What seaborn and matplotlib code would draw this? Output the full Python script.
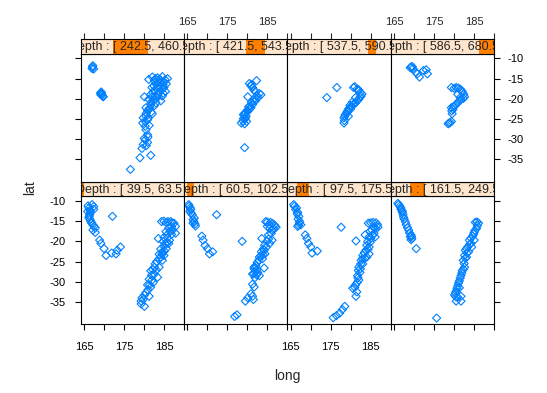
import matplotlib
matplotlib.use("Agg")
import matplotlib.pyplot as plt
import seaborn as sns
import pandas as pd
from matplotlib.patches import Rectangle

# ---- data ----
depth_lo = [39.5, 60.5, 97.5, 161.5, 242.5, 421.5, 537.5, 586.5]
depth_hi = [63.5, 102.5, 175.5, 249.5, 460.5, 543.5, 590.5, 680.5]

panel1 = [(167.0,-10.9),(166.2,-11.7),(165.9,-12.6),(166.4,-13.4),(166.2,-14.2),(166.7,-15.1),(167.2,-15.9),
          (167.8,-16.7),(167.2,-17.2),(167.8,-17.8),(167.4,-12.1),(166.6,-12.8),(172.1,-13.8),(168.9,-19.7),
          (170.0,-21.8),(170.5,-23.5),(171.9,-22.9),(173.0,-23.1),(173.3,-22.2),(174.1,-21.4),(169.2,-20.5),
          (166.0,-11.2),(166.5,-12.3),(166.3,-13.8),(166.5,-14.6),(166.9,-15.5),(167.5,-16.3),(167.4,-11.4),
          (184.4,-15.1),(185.6,-15.3),(186.7,-15.1),(187.5,-15.5),(187.9,-16.3),(187.2,-17.2),(186.2,-16.7),
          (187.9,-18.0),(183.6,-19.3),(185.8,-18.4),(186.4,-19.7),(185.3,-20.5),(185.6,-21.8),(184.6,-22.6),
          (184.2,-23.9),(185.0,-23.5),(183.8,-24.3),(183.8,-26.4),(182.6,-26.4),(181.7,-27.3),(182.6,-28.1),
          (183.4,-28.9),(181.3,-29.4),(182.3,-30.2),(180.9,-30.8),(181.7,-31.3),(180.5,-32.7),(181.3,-33.6),
          (179.5,-34.0),(179.3,-34.8),(180.1,-36.1),(179.3,-35.5),(183.1,-27.1),(184.6,-24.7),(186.2,-20.5),
          (185.0,-15.0),(186.0,-15.1),(187.0,-15.4),(186.9,-16.4),(186.5,-17.5),(185.5,-17.6),(186.9,-18.3),
          (185.0,-19.0),(185.9,-19.1),(184.8,-20.0),(185.8,-20.4),(185.0,-21.2),(184.2,-21.9),(185.1,-22.4),
          (184.5,-23.2),(183.8,-23.2),(183.2,-25.0),(182.8,-25.6),(182.2,-27.0),(181.9,-28.4),(182.0,-29.6),
          (181.4,-30.8),(181.0,-32.0),(180.1,-33.3),(179.8,-34.4)]
panel2 = [(165.3,-10.9),(165.7,-11.7),(165.6,-12.6),(166.2,-13.4),(166.7,-14.2),(166.6,-15.1),(167.0,-16.2),
          (166.4,-15.5),(172.3,-13.4),(168.6,-18.7),(168.9,-19.7),(169.4,-21.0),(170.0,-21.8),(170.5,-23.1),
          (171.3,-22.6),(178.7,-20.0),
          (165.4,-11.3),(165.8,-12.1),(165.9,-13.0),(166.4,-14.6),(166.9,-15.7),
          (184.6,-15.1),(185.8,-15.3),(186.7,-15.9),(187.2,-16.5),(185.6,-16.8),(186.2,-17.2),(183.6,-19.3),
          (185.3,-18.4),(185.6,-20.5),(184.8,-21.4),(184.2,-22.2),(183.4,-23.5),(183.8,-24.3),(183.0,-23.9),
          (182.1,-26.0),(181.7,-26.8),(182.6,-27.7),(181.3,-28.1),(183.0,-28.5),(181.7,-26.4),(184.2,-26.6),
          (181.3,-30.6),(181.7,-31.3),(179.5,-34.8),(180.1,-34.0),(181.3,-33.6),(181.5,-34.4),(176.8,-38.6),
          (177.4,-38.2),(184.4,-23.1),(186.2,-19.7),
          (185.0,-15.2),(185.4,-15.8),(186.3,-15.6),(186.9,-16.2),(186.6,-17.0),(185.0,-16.3),(186.0,-18.0),
          (185.3,-19.4),(184.9,-20.0),(184.3,-21.0),(184.0,-21.9),(183.5,-22.6),(183.9,-23.3),(182.9,-24.6),
          (182.5,-25.2),(182.0,-26.5),(182.4,-26.9),(182.0,-27.6),(181.6,-28.0),(182.3,-28.3),(181.9,-29.0),
          (180.9,-33.0)]
panel3 = [(165.7,-10.9),(166.4,-11.7),(166.7,-12.8),(167.0,-13.8),(167.2,-15.1),(167.5,-15.9),(166.7,-16.3),
          (168.6,-18.4),(169.0,-19.3),(169.4,-20.5),(170.0,-21.4),(170.3,-22.9),(171.6,-22.4),(177.6,-16.5),
          (181.3,-19.9),
          (165.9,-11.3),(166.2,-12.1),(166.6,-13.2),(166.8,-14.5),(167.1,-15.5),(166.9,-16.0),
          (184.4,-15.5),(185.6,-15.3),(186.7,-15.9),(186.2,-16.8),(185.3,-17.2),(183.6,-18.4),(185.8,-18.0),
          (185.0,-19.3),(184.2,-20.1),(184.6,-21.4),(183.8,-22.2),(183.0,-23.5),(184.0,-23.9),(182.6,-24.7),
          (183.0,-25.6),(182.0,-26.4),(182.3,-27.7),(181.7,-28.5),(182.0,-29.6),(181.2,-30.8),(180.5,-31.6),
          (181.5,-32.5),(181.3,-33.6),(178.5,-36.1),(177.9,-36.9),(177.2,-37.8),(175.6,-38.9),(176.4,-38.4),
          (184.6,-23.1),(186.1,-18.9),
          (185.0,-15.4),(186.3,-15.4),(186.8,-16.5),(185.8,-16.6),(184.8,-17.5),(185.5,-18.5),(184.6,-18.9),
          (184.9,-20.2),(184.0,-21.0),(184.3,-22.0),(183.4,-22.8),(183.5,-24.2),(182.9,-24.3),(182.5,-25.6),
          (182.4,-26.8),(181.9,-27.2),(181.8,-29.0),(181.6,-30.2),(181.0,-31.4)]
panel4 = [(165.9,-10.6),(166.4,-11.3),(166.7,-12.1),(167.2,-13.4),(167.5,-14.5),(168.0,-15.9),(168.6,-17.2),
          (169.2,-18.4),(169.4,-19.3),(169.0,-18.9),(170.5,-21.8),(167.0,-12.8),
          (166.1,-10.9),(166.6,-11.7),(167.0,-12.5),(167.3,-14.0),(167.8,-15.2),(168.3,-16.6),(168.8,-17.9),
          (169.3,-18.8),(169.2,-19.6),
          (185.3,-15.3),(186.1,-15.5),(185.6,-16.8),(185.0,-17.8),(184.6,-18.7),(183.8,-19.7),(184.2,-20.5),
          (183.4,-21.4),(182.8,-22.2),(183.6,-22.6),(182.6,-23.5),(183.1,-23.9),(182.3,-24.7),(182.6,-26.4),
          (182.0,-27.3),(181.7,-28.5),(181.3,-29.8),(180.9,-31.0),(180.5,-32.3),(180.1,-33.3),(180.9,-33.8),
          (181.7,-33.6),(180.5,-34.8),(181.7,-34.8),(175.6,-39.0),(185.0,-19.7),(184.4,-21.4),(181.3,-31.5),
          (185.7,-15.2),(185.8,-16.2),(185.2,-17.3),(184.9,-18.2),(184.2,-19.2),(183.9,-20.7),(183.1,-21.8),
          (183.2,-22.9),(182.8,-24.2),(182.5,-25.5),(182.3,-26.9),(181.9,-27.9),(181.5,-29.1),(181.1,-30.3),
          (180.7,-31.6),(180.3,-32.8),(180.4,-33.7)]
panel5 = [(167.1,-12.1),(167.0,-12.5),(167.4,-12.6),(167.2,-11.8),(169.4,-18.7),(169.2,-19.0),(169.7,-19.4),
          (169.3,-18.3),(169.8,-19.5),(169.5,-19.1),(169.1,-18.6),
          (181.2,-15.2),(182.1,-14.6),(183.4,-14.8),(184.6,-14.5),(185.3,-15.3),(185.6,-16.3),(185.0,-17.2),
          (184.2,-15.9),(183.0,-16.3),(182.0,-17.2),(182.5,-18.0),(183.8,-18.4),(185.4,-18.2),(184.6,-19.3),
          (183.4,-19.7),(182.3,-20.5),(181.7,-21.4),(183.0,-21.0),(184.2,-20.5),(181.5,-22.2),(180.9,-23.0),
          (180.1,-19.5),(182.1,-23.7),(180.5,-24.3),(179.8,-24.7),(180.9,-25.2),(179.7,-26.0),(180.3,-26.8),
          (181.3,-26.6),(180.9,-28.9),(180.3,-30.2),(180.9,-30.8),(179.8,-31.3),(179.5,-32.3),(181.7,-34.0),
          (179.0,-34.6),(176.6,-37.5),(182.6,-15.5),(183.8,-16.8),(181.7,-18.9),(182.8,-19.3),(181.2,-20.1),
          (180.5,-22.2),(183.6,-17.3),(184.8,-16.5),(180.5,-27.7),(180.1,-29.8),
          (182.9,-15.0),(184.0,-15.2),(185.0,-15.8),(183.5,-16.0),(182.5,-16.8),(184.5,-17.6),(183.2,-17.5),
          (182.2,-18.5),(183.5,-19.0),(184.8,-18.6),(182.8,-20.0),(182.0,-19.6),(181.8,-20.8),(182.6,-21.7),
          (181.2,-22.6),(181.8,-23.3),(180.6,-23.6),(181.0,-24.8),(180.4,-25.7),(185.9,-15.0),(181.0,-29.5),
          (180.6,-31.6)]
panel6 = [(180.5,-16.2),(182.3,-15.5),(181.3,-17.2),(182.0,-18.2),(183.4,-19.0),(180.1,-19.5),(182.6,-19.7),
          (181.7,-20.5),(181.3,-21.4),(180.9,-22.2),(180.1,-23.1),(179.3,-23.7),(179.7,-24.3),(179.0,-24.9),
          (179.8,-25.6),(178.5,-26.0),(179.3,-26.2),(179.3,-32.1),(180.9,-16.8),(183.0,-18.7),(182.1,-20.4),
          (180.5,-22.6),(179.5,-24.7),
          (181.0,-16.5),(181.6,-17.8),(182.4,-19.2),(181.9,-19.8),(181.0,-20.9),(180.6,-21.8),(180.0,-22.8),
          (179.6,-23.4),(179.2,-24.0),(179.4,-25.0),(178.9,-25.5),(179.0,-23.9),(180.3,-22.0)]
panel7 = [(176.5,-17.2),(174.0,-19.7),(180.7,-17.2),(181.6,-17.6),(182.4,-18.4),(182.6,-19.3),(182.0,-20.1),
          (181.2,-21.0),(180.3,-21.8),(179.5,-22.4),(179.1,-23.2),(178.7,-23.9),(178.3,-24.7),(178.3,-26.0),
          (179.9,-22.6),(181.2,-19.7),(181.8,-17.9),(179.4,-24.3),(180.7,-21.4),
          (181.0,-17.0),(182.0,-17.8),(182.8,-18.8),(182.3,-19.6),(181.6,-20.5),(180.8,-21.2),(180.0,-22.0),
          (179.3,-22.9),(178.9,-23.6),(178.5,-24.3),(178.4,-25.4),(180.4,-20.8),(179.8,-21.6)]
panel8 = [(169.2,-12.1),(169.7,-12.5),(170.3,-13.4),(171.3,-14.6),(172.3,-13.0),(173.3,-13.8),(173.0,-12.8),
          (170.8,-13.8),(169.0,-12.3),(169.5,-12.0),
          (179.3,-17.2),(180.5,-17.2),(181.5,-17.6),(182.1,-18.4),(182.6,-19.5),(181.7,-20.1),(180.9,-21.0),
          (180.1,-21.8),(179.3,-22.2),(179.7,-22.6),(179.5,-23.7),(179.3,-25.6),(178.5,-26.2),(178.7,-26.0),
          (180.9,-18.9),(181.5,-19.7),
          (180.0,-17.4),(181.0,-17.3),(181.9,-18.0),(182.4,-18.9),(182.3,-19.9),(181.3,-20.5),(180.5,-21.3),
          (179.8,-22.0),(179.4,-23.0),(179.0,-25.9)]

x_ticks = [165, 170, 175, 180, 185, 190]
x_ticklabels = ["165", "", "175", "", "185", ""]
y_ticks = [-10, -15, -20, -25, -30, -35]
y_ticklabels = ["-10", "-15", "-20", "-25", "-30", "-35"]
strip_name = "Depth"
x_label = "long"
y_label = "lat"

panels = [panel1, panel2, panel3, panel4, panel5, panel6, panel7, panel8]
df = pd.concat([pd.DataFrame(p, columns=["long", "lat"]).assign(panel=i)
                for i, p in enumerate(panels)], ignore_index=True)

# ---- style ----
sns.set_style("white")
plt.rcParams["font.family"] = ["Liberation Sans", "DejaVu Sans"]
plt.rcParams["axes.unicode_minus"] = False

W, H = 547, 393
fig = plt.figure(figsize=(W / 100, H / 100), dpi=100)

def box(x0, y0, x1, y1):
    return [x0 / W, 1 - y1 / H, (x1 - x0) / W, (y1 - y0) / H]

col_x = [80.5, 183.9, 287.3, 390.7, 494.1]
rows = {0: (181.7, 196.0, 324.3), 1: (39.0, 53.5, 181.7)}  # strip top, panel top, panel bottom
xlim = (164.1, 189.7)
ylim = (-40.54, -8.77)
dmin, dmax = min(depth_lo), max(depth_hi)
pt_color = "#0080ff"
tick_len, fs, strip_fs = 4.6, 8, 9

for i in range(8):
    row = i // 4
    col = i % 4
    st, pt, pb = rows[row]
    x0, x1 = col_x[col], col_x[col + 1]

    ax = fig.add_axes(box(x0, pt, x1, pb))
    sub = df[df["panel"] == i]
    sns.scatterplot(data=sub, x="long", y="lat", ax=ax, marker="D", s=17,
                    facecolor="none", edgecolor=pt_color, linewidth=0.8, legend=False)
    ax.set_xlim(xlim)
    ax.set_ylim(ylim)
    ax.set_xlabel("")
    ax.set_ylabel("")
    for s in ax.spines.values():
        s.set_color("black")
        s.set_linewidth(0.8)
    ax.set_xticks(x_ticks)
    ax.set_yticks(y_ticks)
    ax.set_xticklabels(x_ticklabels if (row == 0 and col in (0, 2)) else [""] * 6, fontsize=fs)
    ax.set_yticklabels(y_ticklabels, fontsize=fs)
    ax.tick_params(axis="both", direction="out", length=tick_len, width=0.8, colors="black")
    ax.tick_params(axis="x", bottom=(row == 0), top=False, labelbottom=(row == 0),
                   labeltop=False, pad=8.0)
    ax.tick_params(axis="y", left=(col == 0), right=(col == 3),
                   labelleft=(col == 0 and row == 0), labelright=(col == 3 and row == 1))
    ax.tick_params(axis="y", which="both", pad=6.0 if col == 0 else 5.0)

    # strip
    sa = fig.add_axes(box(x0, st, x1, pt))
    sa.set_facecolor("#ffe5cc")
    f0 = (depth_lo[i] - dmin) / (dmax - dmin)
    f1 = (depth_hi[i] - dmin) / (dmax - dmin)
    sa.add_patch(Rectangle((f0, 0), f1 - f0, 1, facecolor="#ff7f00", edgecolor="none",
                           transform=sa.transAxes))
    sa.text(0.5, 0.45, f"{strip_name} : [ {depth_lo[i]}, {depth_hi[i]} ]", ha="center",
            va="center", fontsize=strip_fs, clip_on=True, transform=sa.transAxes)
    for s in sa.spines.values():
        s.set_color("black")
        s.set_linewidth(0.8)
    sa.set_xlim(xlim)
    sa.set_ylim(0, 1)
    if row == 1:
        sa.set_xticks(x_ticks)
        sa.set_xticklabels(x_ticklabels if col in (1, 3) else [""] * 6, fontsize=fs)
        sa.tick_params(axis="x", direction="out", length=tick_len, width=0.8, pad=4.0,
                       bottom=False, top=True, labelbottom=False, labeltop=(col in (1, 3)))
    else:
        sa.set_xticks([])
    sa.set_yticks([])

fig.text(287.3 / W, 1 - 376 / H, x_label, ha="center", va="center", fontsize=10)
fig.text(30 / W, 1 - 188 / H, y_label, ha="center", va="center", rotation=90, fontsize=10)

fig.savefig("out.png", dpi=100, facecolor="white")
